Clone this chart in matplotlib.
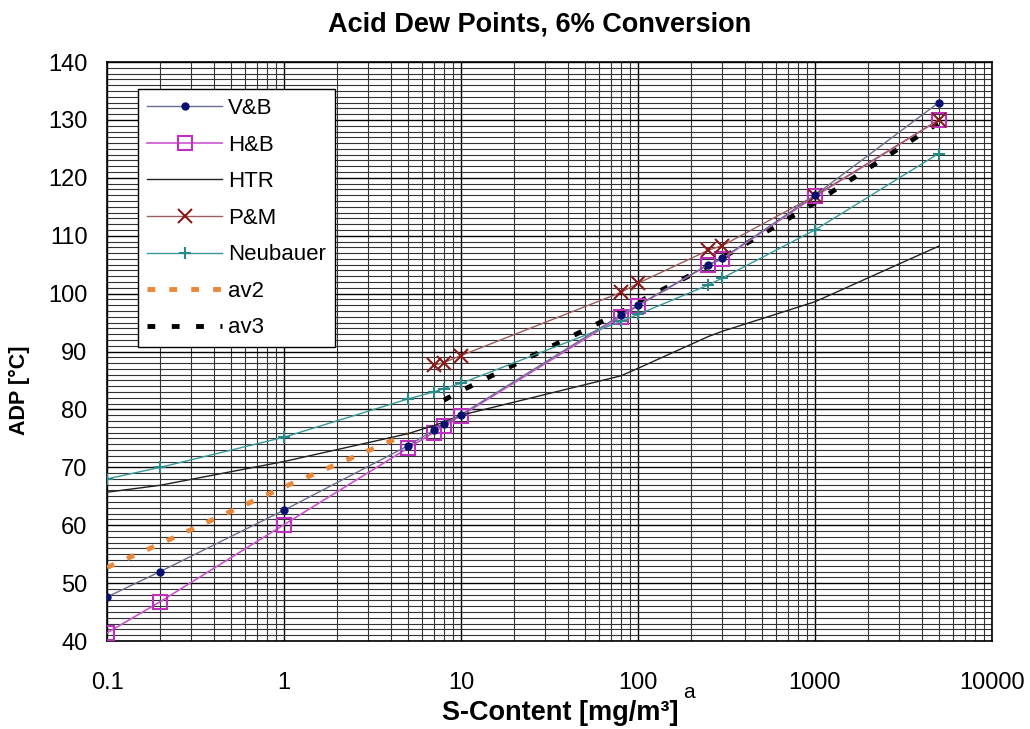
import matplotlib
matplotlib.use("Agg")
import matplotlib.pyplot as plt
import matplotlib.ticker as mticker
import numpy as np

plt.rcParams['font.family'] = ['Liberation Sans', 'DejaVu Sans']

# S-content [mg/m3] and acid dew points [degC]
x_full = [0.1, 0.2, 1, 5, 7, 8, 10, 80, 100, 250, 300, 1000, 5000]
vb = [47.6, 52.0, 62.6, 73.7, 76.4, 77.5, 79.1, 96.3, 98.0, 105.0, 106.1, 117.0, 133.0]
hb = [41.4, 46.8, 60.1, 73.3, 76.0, 77.2, 78.9, 96.0, 97.9, 105.0, 106.0, 116.8, 130.0]
htr = [65.7, 66.9, 71.0, 75.8, 77.2, 77.8, 79.0, 85.8, 87.1, 92.6, 93.5, 98.6, 108.2]
neub = [68.0, 70.0, 75.2, 81.8, 83.0, 83.6, 84.5, 95.2, 96.4, 101.5, 102.7, 111.0, 124.2]

x_pm = [7, 8, 10, 80, 100, 250, 300, 1000, 5000]
pm = [87.6, 88.1, 89.3, 100.2, 101.8, 107.5, 108.3, 116.9, 130.0]

x_av2 = [0.1, 0.2, 1, 5]
av2 = [52.7, 56.8, 66.6, 75.8]

x_av3 = [8, 10, 80, 100, 250, 300, 1000, 5000]
av3 = [81.6, 83.2, 96.8, 98.5, 104.8, 106.2, 115.7, 129.5]

xticks = [0.1, 1, 10, 100, 1000, 10000]
xticklabels = ['0.1', '1', '10', '100', '1000', '10000']


def main():
    fig = plt.figure(figsize=(10.3, 7.29), dpi=100)
    ax = fig.add_axes([0.1039, 0.1207, 0.8592, 0.7942])

    ax.plot(x_full, vb, color='#6a7090', lw=1.0, marker='o', ms=5,
            mfc='#0a1070', mec='#0a1070', label='V&B', zorder=5)
    ax.plot(x_full, hb, color='#cc55cc', lw=1.2, marker='s', ms=10,
            mfc='none', mec='#c030c0', mew=1.5, label='H&B', zorder=4)
    ax.plot(x_full, htr, color='#222222', lw=1.0, label='HTR', zorder=4)
    ax.plot(x_pm, pm, color='#9a6060', lw=1.0, marker='x', ms=10,
            mec='#8b1a1a', mew=1.5, label='P&M', zorder=4)
    ax.plot(x_full, neub, color='#3a9a9a', lw=1.0, marker='+', ms=8,
            mec='#2a8a8a', mew=1.5, label='Neubauer', zorder=4)
    ax.plot(x_av2, av2, color='#e8883a', lw=3.5, linestyle=(0, (1.6, 2.9)),
            label='av2', zorder=3)
    ax.plot(x_av3, av3, color='black', lw=3.5, linestyle=(0, (1.6, 3.4)),
            label='av3', zorder=3)

    ax.set_xscale('log')
    ax.set_xlim(0.1, 10000)
    ax.set_ylim(40, 140)
    ax.set_xticks(xticks)
    ax.set_xticklabels(xticklabels)
    ax.xaxis.set_minor_locator(mticker.LogLocator(base=10, subs=np.arange(2, 10)))
    ax.xaxis.set_minor_formatter(mticker.NullFormatter())
    ax.yaxis.set_major_locator(mticker.MultipleLocator(10))
    ax.yaxis.set_minor_locator(mticker.MultipleLocator(1))

    ax.grid(which='major', color='black', lw=1.0)
    ax.grid(which='minor', color='#333333', lw=0.8)
    ax.set_axisbelow(True)
    ax.tick_params(which='both', length=0)
    ax.tick_params(axis='x', labelsize=17, pad=22)
    ax.tick_params(axis='y', labelsize=17, pad=14)
    for s in ax.spines.values():
        s.set_linewidth(1.2)

    fig.text(0.524, 0.966, 'Acid Dew Points, 6% Conversion', fontsize=19.5,
             fontweight='bold', ha='center', va='center')
    ax.set_ylabel('ADP [°C]', fontsize=15.5, fontweight='bold')
    ax.yaxis.set_label_coords(-0.087, 0.433)
    fig.text(0.5435, 0.004, 'S-Content [mg/m³]', fontsize=19.5,
             fontweight='bold', ha='center', va='bottom')
    fig.text(0.663, 0.043, 'a', fontsize=15, ha='left', va='baseline')

    leg = ax.legend(loc='upper left', bbox_to_anchor=(0.035, 0.953),
                    fontsize=16, frameon=True, fancybox=False, framealpha=1.0,
                    edgecolor='black', handlelength=3.4, handletextpad=0.25,
                    labelspacing=0.7, borderpad=0.4, borderaxespad=0)
    leg.get_frame().set_linewidth(1.0)

    fig.savefig('out.png', dpi=100)


if __name__ == '__main__':
    main()
